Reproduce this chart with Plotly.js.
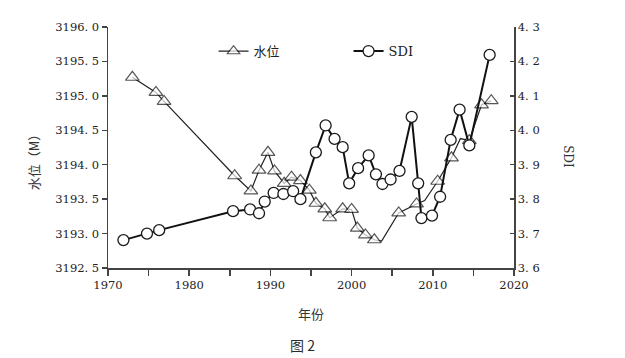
<!DOCTYPE html>
<html>
<head>
<meta charset="utf-8">
<script src="https://cdn.plot.ly/plotly-3.0.1.min.js"></script>
<style>html,body{margin:0;padding:0;background:#fff;}#chart{width:625px;height:358px;}</style>
</head>
<body>
<div id="chart"></div>
<script>
// 水位 (water level) series
const wlYears = [1973.0, 1975.9, 1976.9, 1985.6, 1987.6, 1988.6, 1989.7, 1990.5, 1991.7, 1992.6, 1993.7, 1994.8, 1995.6, 1996.7, 1997.3, 1998.9, 2000.0, 2000.7, 2001.7, 2002.8, 2003.7, 2005.8, 2008.0, 2009.0, 2010.6, 2012.3, 2013.4, 2014.5, 2016.0, 2017.2];
const wlValues = [3195.27, 3195.05, 3194.92, 3193.84, 3193.62, 3193.92, 3194.18, 3193.91, 3193.73, 3193.82, 3193.77, 3193.63, 3193.44, 3193.36, 3193.23, 3193.36, 3193.35, 3193.08, 3192.98, 3192.91, 3192.89, 3193.30, 3193.43, 3193.48, 3193.76, 3194.10, 3194.38, 3194.35, 3194.87, 3194.93];
// line vertices drawn without a marker in the reference
const wlUnmarkedYears = [2003.7, 2009.0, 2013.4];

// SDI series
const sdiYears = [1971.9, 1974.8, 1976.3, 1985.4, 1987.5, 1988.6, 1989.3, 1990.4, 1991.6, 1992.8, 1993.7, 1995.6, 1996.8, 1997.9, 1998.9, 1999.7, 2000.8, 2002.1, 2003.0, 2003.8, 2004.8, 2005.9, 2007.4, 2008.2, 2008.6, 2009.9, 2010.9, 2012.2, 2013.3, 2014.5, 2017.0];
const sdiValues = [3.681, 3.700, 3.710, 3.765, 3.770, 3.759, 3.793, 3.818, 3.815, 3.823, 3.800, 3.936, 4.014, 3.975, 3.951, 3.846, 3.890, 3.927, 3.872, 3.844, 3.857, 3.882, 4.039, 3.846, 3.745, 3.752, 3.807, 3.972, 4.060, 3.956, 4.219];

// tick labels
const xTickVals = [1970, 1975, 1980, 1985, 1990, 1995, 2000, 2005, 2010, 2015, 2020];
const xTickText = ['1970', '', '1980', '', '1990', '', '2000', '', '2010', '', '2020'];
const yTickVals = [3192.5, 3193.0, 3193.5, 3194.0, 3194.5, 3195.0, 3195.5, 3196.0];
const yTickText = ['3192. 5', '3193. 0', '3193. 5', '3194. 0', '3194. 5', '3195. 0', '3195. 5', '3196. 0'];
const y2TickVals = [3.6, 3.7, 3.8, 3.9, 4.0, 4.1, 4.2, 4.3];
const y2TickText = ['3. 6', '3. 7', '3. 8', '3. 9', '4. 0', '4. 1', '4. 2', '4. 3'];

const wlSizes = wlYears.map(y => wlUnmarkedYears.includes(y) ? 0 : 12);

const tickFont = {family: 'DejaVu Serif, serif', size: 11.5, color: '#222'};

const traces = [
  {
    x: wlYears, y: wlValues, name: '水位', type: 'scatter', mode: 'lines+markers',
    line: {color: '#222', width: 1.2},
    marker: {symbol: 'triangle-up', size: wlSizes, color: '#fff', line: {width: 1.2, color: '#111'}},
    yaxis: 'y'
  },
  {
    x: sdiYears, y: sdiValues, name: 'SDI', type: 'scatter', mode: 'lines+markers',
    line: {color: '#111', width: 2},
    marker: {symbol: 'circle', size: 11, color: '#fff', line: {width: 1.3, color: '#1a1a1a'}},
    yaxis: 'y2'
  }
];

const layout = {
  width: 625, height: 358,
  margin: {l: 108, r: 111, t: 27, b: 90},
  paper_bgcolor: '#fff', plot_bgcolor: 'rgba(0,0,0,0)',
  showlegend: true,
  legend: {
    orientation: 'h', x: 0.26, y: 0.9, xanchor: 'left', yanchor: 'middle',
    bgcolor: 'rgba(0,0,0,0)', entrywidth: 90,
    font: {family: 'DejaVu Serif, Noto Sans CJK SC, serif', size: 13, color: '#222'}
  },
  xaxis: {
    range: [1970, 2020], tickvals: xTickVals, ticktext: xTickText,
    ticks: 'outside', ticklen: 6, tickwidth: 1.5, tickcolor: '#444',
    showline: true, linecolor: '#444', linewidth: 1.5,
    showgrid: false, zeroline: false, tickfont: tickFont
  },
  yaxis: {
    range: [3192.5, 3196.0], tickvals: yTickVals, ticktext: yTickText,
    ticks: 'outside', ticklen: 5, tickwidth: 1.5, tickcolor: '#444',
    showline: true, linecolor: '#444', linewidth: 1.5,
    showgrid: false, zeroline: false, tickfont: tickFont
  },
  yaxis2: {
    range: [3.6, 4.3], tickvals: y2TickVals, ticktext: y2TickText,
    overlaying: 'y', side: 'right',
    ticks: 'inside', ticklen: 4, tickwidth: 1.5, tickcolor: '#444',
    showline: true, linecolor: '#444', linewidth: 1.5,
    showgrid: false, zeroline: false, tickfont: tickFont
  },
  annotations: [
    {text: '水位（M）', xref: 'paper', yref: 'paper', x: -0.185, y: 0.455, textangle: -90,
     xanchor: 'center', yanchor: 'middle',
     showarrow: false, font: {family: 'Noto Sans CJK SC', size: 13, color: '#333'}},
    {text: 'SDI', xref: 'paper', yref: 'paper', x: 1.133, y: 0.46, textangle: 90,
     xanchor: 'center', yanchor: 'middle',
     showarrow: false, font: {family: 'DejaVu Serif, serif', size: 12, color: '#333'}},
    {text: '年份', xref: 'paper', yref: 'paper', x: 0.5, y: -0.187,
     xanchor: 'center', yanchor: 'middle',
     showarrow: false, font: {family: 'Noto Sans CJK SC', size: 13, color: '#333'}},
    {text: '图 2', xref: 'paper', yref: 'paper', x: 0.478, y: -0.32,
     xanchor: 'center', yanchor: 'middle',
     showarrow: false, font: {family: 'Noto Sans CJK SC', size: 14, color: '#2a2a2a'}}
  ]
};

Plotly.newPlot('chart', traces, layout, {displayModeBar: false, staticPlot: true});
</script>
</body>
</html>
